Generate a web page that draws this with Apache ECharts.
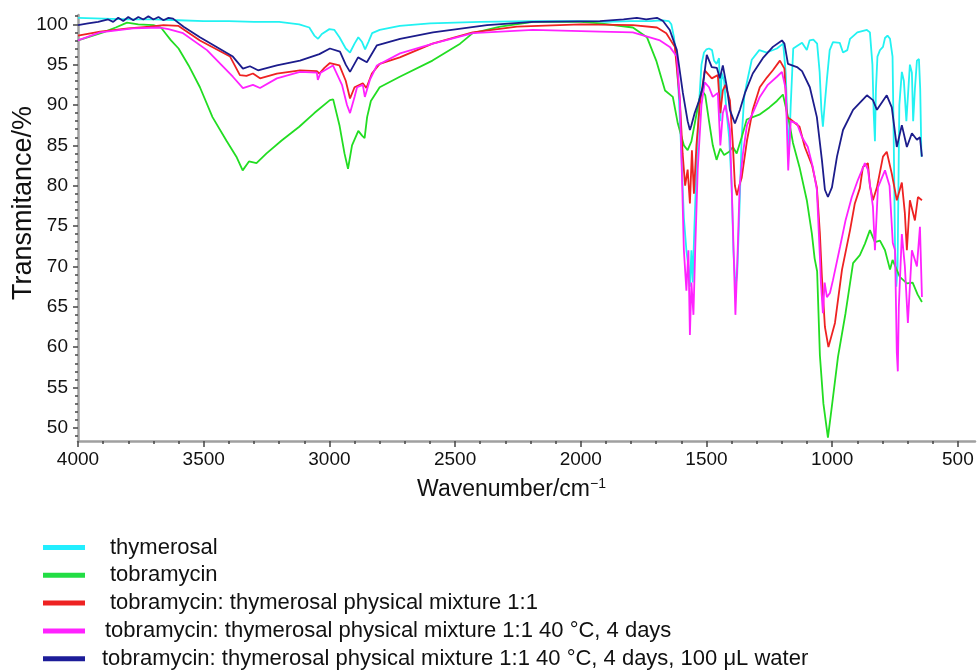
<!DOCTYPE html>
<html>
<head>
<meta charset="utf-8">
<script src="https://cdn.jsdelivr.net/npm/echarts@6/dist/echarts.min.js"></script>
<style>
html,body{margin:0;padding:0;background:#fff;}
#chart{width:978px;height:671px;}
</style>
</head>
<body>
<div id="chart"></div>
<script>
// ---- data: [wavenumber (cm-1), transmittance (%)] ----
const thymerosal = [[4000,100.8],[3900,100.7],[3800,100.6],[3700,100.6],[3600,100.5],[3500,100.4],[3400,100.4],[3300,100.3],[3200,100.3],[3120,100.0],[3080,99.6],[3060,98.6],[3045,98.2],[3030,98.8],[3000,99.4],[2980,99.3],[2960,98.4],[2935,97.0],[2918,96.5],[2900,97.6],[2885,98.4],[2870,97.8],[2858,96.9],[2845,97.8],[2830,98.9],[2800,99.3],[2720,99.8],[2600,100.1],[2400,100.3],[2200,100.4],[2000,100.4],[1900,100.3],[1800,100.4],[1720,100.4],[1680,100.5],[1650,100.4],[1640,100.0],[1630,98.5],[1620,96.0],[1610,91],[1600,84],[1590,76],[1580,72],[1572,70],[1566,67.5],[1560,72],[1555,68],[1548,75],[1540,82],[1530,90],[1520,95],[1510,96.5],[1500,96.9],[1490,97],[1478,96.8],[1470,95.5],[1460,95.1],[1450,95.8],[1445,88],[1440,94],[1430,93],[1420,89],[1410,86],[1400,80],[1393,72],[1385,67.5],[1378,69],[1370,76],[1360,86],[1350,91],[1340,92.7],[1320,95.6],[1290,96.8],[1260,96.5],[1220,97],[1195,97.6],[1185,94],[1180,89.7],[1172,84],[1165,90],[1155,97],[1140,97.3],[1120,97.7],[1101,96.8],[1090,98],[1075,98.1],[1060,97.6],[1050,94.1],[1043,89.4],[1037,87.3],[1030,90],[1021,93.2],[1010,96.8],[997,97.8],[970,97.7],[957,96.5],[940,96.8],[929,98.2],[900,99],[862,99.3],[850,99],[840,95],[835,89],[830,85.5],[826,92],[820,96],[810,96.8],[798,97.2],[790,98.3],[780,98.6],[770,98.2],[760,96],[755,85],[750,72],[745,67.5],[740,70],[733,90],[723,94.1],[715,93],[705,88],[697,92],[691,95],[683,94],[678,88],[671,92],[663,95.5],[655,95.7],[650,92],[645,83.6]];

const tobramycin = [[4000,98.0],[3900,99.0],[3850,99.6],[3805,100.2],[3760,100.0],[3700,99.9],[3670,99.6],[3650,98.8],[3630,98.0],[3600,97.0],[3560,94.9],[3515,92.2],[3465,88.5],[3410,85.6],[3370,83.6],[3345,81.9],[3320,83.0],[3290,82.8],[3250,84.0],[3190,85.6],[3120,87.3],[3060,89.0],[2998,90.6],[2985,90.7],[2960,87.5],[2940,84],[2926,82.1],[2910,85],[2885,86.8],[2870,86.2],[2860,85.9],[2850,88.5],[2835,90.5],[2800,92.2],[2720,93.5],[2590,95.5],[2480,97.6],[2430,98.9],[2320,99.7],[2190,100.3],[2000,100.3],[1924,100.1],[1793,99.6],[1737,98.4],[1700,95.5],[1665,91.8],[1634,91.0],[1614,87.7],[1590,85],[1575,84.4],[1560,85.5],[1545,88],[1530,90.5],[1518,91.8],[1505,91.2],[1490,88],[1475,85],[1460,83.2],[1445,84.6],[1430,83.8],[1410,84.2],[1395,84.8],[1380,84],[1360,86],[1340,88.2],[1316,88.5],[1290,88.8],[1250,89.7],[1220,90.5],[1196,91.3],[1188,90.2],[1170,87.7],[1156,85.3],[1130,82.3],[1101,78.2],[1081,74.1],[1070,71],[1060,69.4],[1049,59],[1035,53],[1017,48.8],[1000,53],[977,58.8],[947,64.2],[917,70.4],[890,71.4],[870,72.8],[850,74.5],[830,73],[810,73.2],[790,72],[770,69.6],[760,70.8],[731,68.7],[703,67.9],[680,68],[660,66.5],[643,65.6]];

const mixture = [[4000,98.6],[3912,99.1],[3800,99.5],[3714,99.7],[3660,99.9],[3600,99.8],[3515,98.0],[3395,96.0],[3356,93.7],[3330,93.6],[3304,93.9],[3276,93.3],[3209,93.9],[3117,94.3],[3050,94.2],[3040,93.9],[3020,94.6],[2998,95.2],[2960,94.9],[2935,93],[2918,90.8],[2900,92.2],[2867,92.7],[2853,92.1],[2831,93.9],[2800,95.1],[2720,95.9],[2590,97.6],[2430,99.0],[2254,99.7],[2000,100.0],[1793,99.9],[1697,99.6],[1660,98.9],[1626,97.2],[1606,90.6],[1595,84],[1585,80],[1575,82],[1566,77.8],[1558,84.4],[1550,79],[1540,85],[1527,90],[1507,94.3],[1479,93.3],[1455,93.7],[1445,89],[1435,91.8],[1425,92.5],[1407,90.6],[1395,85],[1387,80],[1379,78.8],[1370,80],[1360,81],[1339,85.6],[1316,89.4],[1288,92.2],[1260,93.4],[1236,94.3],[1208,95.5],[1190,94.5],[1180,88.5],[1165,88.2],[1130,87.3],[1109,84.8],[1080,82.5],[1061,79.8],[1049,74.1],[1041,68.7],[1029,62.5],[1015,60],[989,63],[961,69.6],[929,74.5],[910,77.8],[890,79.7],[878,82.3],[858,82.8],[850,80],[838,78.2],[822,79.8],[798,83.6],[783,84.2],[763,81.5],[743,78.2],[723,80.4],[711,76.6],[703,72],[691,78.2],[671,75.7],[659,78.6],[643,78.2]];

const mixture40C = [[4000,98.0],[3912,99.0],[3781,99.5],[3674,99.6],[3640,99.4],[3582,98.9],[3487,96.8],[3384,93.5],[3344,92.1],[3304,92.5],[3276,92.1],[3209,93.3],[3117,94.1],[3050,94.0],[3046,93.1],[3035,94.0],[2986,94.9],[2950,92.5],[2930,90],[2918,89.0],[2900,91],[2890,92.2],[2867,92.5],[2859,91.0],[2839,93.1],[2811,94.9],[2719,96.4],[2588,97.6],[2429,98.9],[2190,99.3],[1924,99.1],[1793,99.0],[1685,98.0],[1646,97.2],[1618,96.0],[1606,90.6],[1598,81.6],[1590,72],[1580,67],[1572,72],[1566,61.5],[1560,68],[1552,64],[1545,72],[1535,82],[1520,90],[1507,92.8],[1490,92.2],[1475,91],[1455,91.5],[1445,85],[1435,89],[1425,90],[1407,87],[1395,75],[1385,64],[1378,70],[1368,80],[1355,84],[1339,87.5],[1316,89],[1288,91],[1256,92.5],[1220,93.5],[1200,94.1],[1185,92],[1175,81.9],[1165,88],[1140,87.7],[1120,86],[1097,84.8],[1077,82.3],[1061,79.5],[1049,71.2],[1045,68],[1037,64.2],[1030,68],[1021,66.2],[1009,66.7],[997,68.3],[969,72.4],[947,75.7],[922,78.6],[898,80.7],[870,82.8],[858,82.0],[838,77.4],[830,72],[818,79.8],[790,81.9],[772,80],[759,72.9],[750,72],[743,59.3],[739,57.0],[735,65],[723,74],[711,70],[699,63],[683,72],[663,70],[651,74.9],[643,66.2]];

const mixture40CWater = [[4000,99.9],[3960,100.1],[3920,100.3],[3880,100.6],[3860,100.3],[3840,100.8],[3820,100.4],[3800,100.9],[3780,100.5],[3760,100.9],[3740,100.6],[3720,101.0],[3700,100.6],[3680,100.9],[3660,100.5],[3640,100.8],[3622,100.7],[3580,99.7],[3515,98.4],[3384,96.0],[3344,94.5],[3316,94.8],[3284,94.3],[3209,94.9],[3117,95.5],[3040,96.3],[2998,97.0],[2958,96.6],[2935,95],[2918,94.1],[2886,95.9],[2851,95.3],[2811,97.4],[2719,98.2],[2588,99.0],[2373,99.9],[2190,100.3],[1924,100.4],[1830,100.6],[1777,100.8],[1740,100.6],[1697,100.8],[1673,100.4],[1646,99.3],[1618,96.8],[1594,91.5],[1575,88],[1566,86.9],[1560,87.5],[1547,89],[1530,90.5],[1515,92.2],[1499,96.2],[1479,94.7],[1459,94.6],[1447,93.3],[1435,94.9],[1419,92.2],[1407,89.4],[1387,87.7],[1367,89.4],[1347,91.5],[1316,93.9],[1276,95.8],[1236,97.2],[1200,98.0],[1190,97.6],[1176,95.1],[1140,94.7],[1120,94.2],[1089,92.2],[1061,88.5],[1041,83.2],[1029,79.5],[1017,78.6],[1001,79.8],[981,83.6],[957,86.9],[917,89.4],[862,91.2],[838,90.6],[822,89.4],[783,91.2],[763,89.7],[743,84.8],[723,87.5],[703,84.8],[683,86.5],[663,85.7],[651,86],[643,83.6]];

const seriesNames = [
  'thymerosal',
  'tobramycin',
  'tobramycin: thymerosal physical mixture 1:1',
  'tobramycin: thymerosal physical mixture 1:1 40 °C, 4 days',
  'tobramycin: thymerosal physical mixture 1:1 40 °C, 4 days, 100 μL water'
];
const seriesData = [thymerosal, tobramycin, mixture, mixture40C, mixture40CWater];
const seriesColors = ['#22f2f2', '#22dd22', '#ee2222', '#ff22ff', '#1c1c8c'];
const legendColors = ['#22eeff', '#22dd44', '#ee2222', '#ff22ff', '#1c1c99'];
const legendPad = [20, 20, 20, 15, 12];

const xTickLabels = [4000, 3500, 3000, 2500, 2000, 1500, 1000, 500];
const yTickLabels = [50, 55, 60, 65, 70, 75, 80, 85, 90, 95, 100];
const xMinorTicks = [];
for (let v = 600; v <= 3900; v += 100) xMinorTicks.push(v);
const yMinorTicks = [];
for (let v = 49; v <= 101; v += 1) yMinorTicks.push(v);

const FONT = 'Liberation Sans';
const X_MIN = 432, X_MAX = 4000, Y_MIN = 48.37, Y_MAX = 101.15;

const chart = echarts.init(document.getElementById('chart'), null, {renderer: 'canvas'});
chart.setOption({
  animation: false,
  backgroundColor: '#fff',
  textStyle: {fontFamily: FONT},
  grid: {left: 78, right: 3, top: 15, bottom: 230, containLabel: false, outerBoundsMode: 'none'},
  legend: {
    orient: 'vertical',
    left: 43,
    top: 536.5,
    height: 160,
    padding: 0,
    itemWidth: 42,
    itemHeight: 5,
    itemGap: 5.8,
    icon: 'rect',
    selectedMode: false,
    textStyle: {fontFamily: FONT, fontSize: 22, color: '#111'},
    data: seriesNames.map((n, i) => ({
      name: n,
      itemStyle: {color: legendColors[i]},
      textStyle: {padding: [0, 0, 0, legendPad[i]]}
    }))
  },
  xAxis: [{
    type: 'value', inverse: true, min: X_MIN, max: X_MAX,
    position: 'bottom',
    axisLine: {show: true, lineStyle: {color: '#a0a0a0', width: 2.5}},
    axisTick: {show: true, customValues: xTickLabels, length: 6, lineStyle: {color: '#444', width: 1.5}},
    axisLabel: {show: true, customValues: xTickLabels, fontSize: 19, color: '#111', margin: 9, fontFamily: FONT,
      formatter: v => String(v)},
    splitLine: {show: false},
    name: '{t|Wavenumber/cm}{s|−1}',
    nameLocation: 'middle',
    nameGap: 36,
    nameMoveOverlap: false,
    nameTextStyle: {
      padding: [0, 30, 0, 0],
      rich: {
        t: {fontSize: 23, color: '#111', fontFamily: FONT},
        s: {fontSize: 14, color: '#111', fontFamily: FONT, padding: [0, 0, 12, 0]}
      }
    }
  }, {
    type: 'value', inverse: true, min: X_MIN, max: X_MAX,
    position: 'bottom',
    axisLine: {show: false},
    axisTick: {show: true, customValues: xMinorTicks, length: 3, lineStyle: {color: '#444', width: 1.5}},
    axisLabel: {show: false},
    splitLine: {show: false}
  }],
  yAxis: [{
    type: 'value', min: Y_MIN, max: Y_MAX,
    position: 'left',
    axisLine: {show: true, lineStyle: {color: '#a0a0a0', width: 2.5}},
    axisTick: {show: true, customValues: yTickLabels, length: 5, lineStyle: {color: '#444', width: 1.5}},
    axisLabel: {show: true, customValues: yTickLabels, fontSize: 19, color: '#111', margin: 10, fontFamily: FONT,
      formatter: v => String(v)},
    splitLine: {show: false},
    name: 'Transmitance/%',
    nameLocation: 'middle',
    nameRotate: 90,
    nameGap: 41,
    nameMoveOverlap: false,
    nameTextStyle: {fontSize: 27, color: '#111', fontFamily: FONT, padding: [0, 0, 0, 50]}
  }, {
    type: 'value', min: Y_MIN, max: Y_MAX,
    position: 'left',
    axisLine: {show: false},
    axisTick: {show: true, customValues: yMinorTicks, length: 3, lineStyle: {color: '#444', width: 1.5}},
    axisLabel: {show: false},
    splitLine: {show: false}
  }],
  series: seriesNames.map((n, i) => ({
    name: n,
    type: 'line',
    xAxisIndex: 0,
    yAxisIndex: 0,
    data: seriesData[i],
    showSymbol: false,
    symbol: 'none',
    smooth: false,
    color: seriesColors[i],
    lineStyle: {color: seriesColors[i], width: 1.8},
    z: 2 + i
  }))
});
</script>
</body>
</html>
